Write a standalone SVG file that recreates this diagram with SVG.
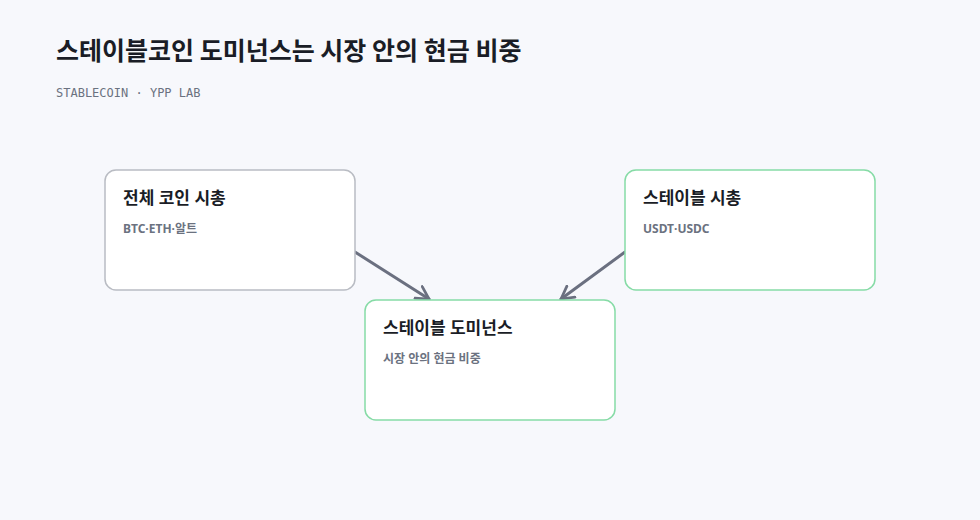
<svg xmlns="http://www.w3.org/2000/svg" width="980" height="520" viewBox="0 0 980 520">
<defs>
<style>
.title{font-family:"Noto Sans CJK KR","Noto Sans",sans-serif;font-weight:700;font-size:25px;fill:#1a1d26}
.sub{font-family:"DejaVu Sans Mono","Liberation Mono",monospace;font-size:12px;fill:#6b7280}
.box{fill:#ffffff;stroke-width:1.5}
.gray{stroke:#b9bcc3}
.green{stroke:#86dba6}
.nt{font-family:"Noto Sans","Noto Sans CJK KR",sans-serif;font-weight:700;font-size:17px;fill:#1a1d26}
.ns{font-family:"Noto Sans","Noto Sans CJK KR",sans-serif;font-weight:700;font-size:12px;fill:#6b7280}
.edge{fill:none;stroke:#6b7080;stroke-width:3;stroke-linecap:round}
</style>
<marker id="arr" viewBox="0 0 12 12" refX="10" refY="6" markerWidth="5.5" markerHeight="5.5" markerUnits="strokeWidth" orient="auto">
<path d="M1,1 L10,6 L1,11" fill="none" stroke="#6b7080" stroke-width="2" stroke-linecap="round" stroke-linejoin="round"/>
</marker>
</defs>
<rect width="980" height="520" fill="#f7f8fc"/>
<text class="title" x="56" y="60">스테이블코인 도미넌스는 시장 안의 현금 비중</text>
<text class="sub" x="56" y="97">STABLECOIN · YPP LAB</text>
<g id="connectors">
<line class="edge" x1="355" y1="252" x2="429" y2="299" marker-end="url(#arr)"/>
<line class="edge" x1="625" y1="252" x2="561" y2="299" marker-end="url(#arr)"/>
</g>
<g id="node-total">
<rect class="box gray" x="105" y="170" width="250" height="120" rx="11"/>
<text class="nt" x="123" y="204">전체 코인 시총</text>
<text class="ns" x="123" y="233">BTC·ETH·알트</text>
</g>
<g id="node-stable">
<rect class="box green" x="625" y="170" width="250" height="120" rx="11"/>
<text class="nt" x="643" y="204">스테이블 시총</text>
<text class="ns" x="643" y="233">USDT·USDC</text>
</g>
<g id="node-dominance">
<rect class="box green" x="365" y="300" width="250" height="120" rx="11"/>
<text class="nt" x="383" y="334">스테이블 도미넌스</text>
<text class="ns" x="383" y="363">시장 안의 현금 비중</text>
</g>
</svg>
